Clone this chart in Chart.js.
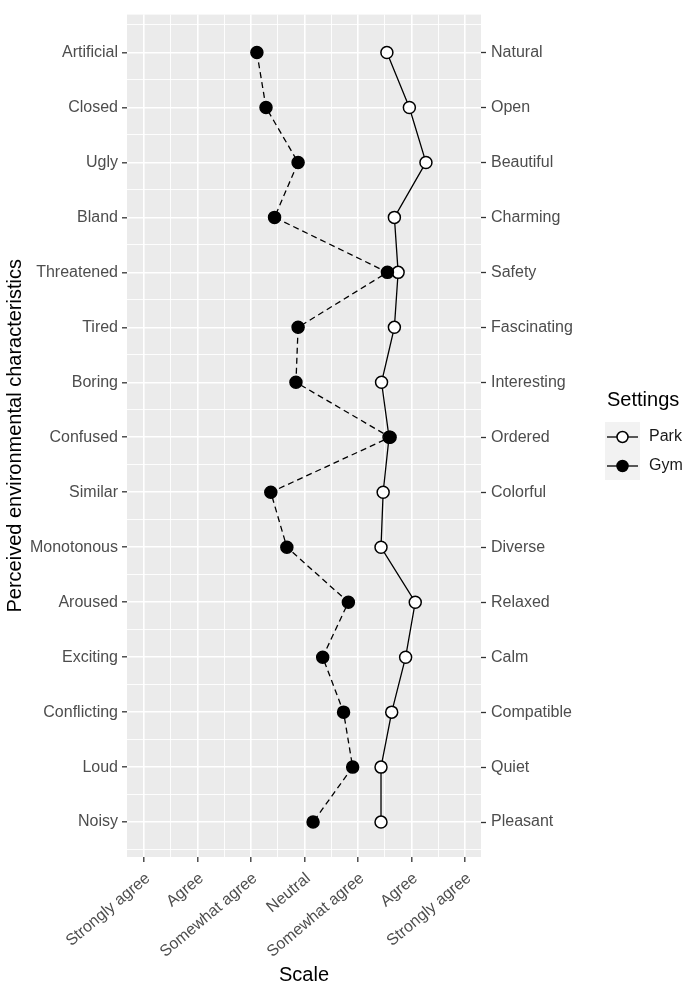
<!DOCTYPE html>
<html>
<head>
<meta charset="utf-8">
<script src="https://cdn.jsdelivr.net/npm/chart.js@4.4.1/dist/chart.umd.min.js"></script>
<style>
html,body{margin:0;padding:0;background:#fff;}
#wrap{width:688px;height:991px;position:relative;}
</style>
</head>
<body>
<div id="wrap"><canvas id="c" width="688" height="991"></canvas></div>
<script>
// ---- data ----
const leftLabels = ["Artificial","Closed","Ugly","Bland","Threatened","Tired","Boring","Confused","Similar","Monotonous","Aroused","Exciting","Conflicting","Loud","Noisy"];
const rightLabels = ["Natural","Open","Beautiful","Charming","Safety","Fascinating","Interesting","Ordered","Colorful","Diverse","Relaxed","Calm","Compatible","Quiet","Pleasant"];
const scaleLabels = ["Strongly agree","Agree","Somewhat agree","Neutral","Somewhat agree","Agree","Strongly agree"];
const parkValues = [5.54,5.96,6.27,5.68,5.75,5.68,5.44,5.58,5.47,5.43,6.07,5.89,5.63,5.43,5.43];
const gymValues  = [3.11,3.28,3.88,3.44,5.55,3.88,3.84,5.60,3.37,3.67,4.82,4.34,4.73,4.90,4.16];
const seriesNames = ["Park","Gym"];

const toPts = vals => vals.map((v,i)=>({x:v,y:i}));
const FONT = "'Liberation Sans', Arial, sans-serif";
const TICK_COL = '#4D4D4D';

const panelBg = {
  id:'panelBg',
  beforeDraw(chart){
    const {ctx, chartArea:a} = chart;
    ctx.save();
    ctx.fillStyle = '#EBEBEB';
    ctx.fillRect(a.left, a.top, a.right-a.left, a.bottom-a.top);
    ctx.restore();
  }
};

const legendPlugin = {
  id:'customLegend',
  afterDraw(chart){
    const ctx = chart.ctx;
    ctx.save();
    ctx.fillStyle = '#000';
    ctx.font = '20px ' + FONT;
    ctx.textAlign = 'left';
    ctx.textBaseline = 'middle';
    ctx.fillText('Settings', 607, 400);
    const rows = [437, 466];
    ctx.fillStyle = '#F2F2F2';
    ctx.fillRect(605, 422, 35, 58);
    rows.forEach((y, i) => {
      ctx.strokeStyle = '#000';
      ctx.lineWidth = 1.3;
      ctx.setLineDash([]);
      ctx.beginPath(); ctx.moveTo(607, y); ctx.lineTo(638, y); ctx.stroke();
      ctx.beginPath(); ctx.arc(622.5, y, 5.5, 0, Math.PI*2);
      ctx.fillStyle = i === 0 ? '#fff' : '#000';
      ctx.fill();
      ctx.lineWidth = 1.5;
      ctx.stroke();
      ctx.fillStyle = '#1a1a1a';
      ctx.font = '16px ' + FONT;
      ctx.fillText(seriesNames[i], 649, y);
    });
    ctx.restore();
  }
};

const isMajor = v => Math.abs(v - Math.round(v)) < 1e-6;

new Chart(document.getElementById('c'), {
  type: 'scatter',
  data: {
    datasets: [
      {
        label: seriesNames[0],
        data: toPts(parkValues),
        showLine: true,
        borderColor: '#000',
        borderWidth: 1.3,
        pointRadius: 6,
        pointHoverRadius: 6,
        pointBackgroundColor: '#fff',
        pointBorderColor: '#000',
        pointBorderWidth: 1.5,
        order: 1
      },
      {
        label: seriesNames[1],
        data: toPts(gymValues),
        showLine: true,
        borderColor: '#000',
        borderWidth: 1.3,
        borderDash: [6,4],
        pointRadius: 6,
        pointHoverRadius: 6,
        pointBackgroundColor: '#000',
        pointBorderColor: '#000',
        pointBorderWidth: 1.5,
        order: 0
      }
    ]
  },
  options: {
    responsive: false,
    animation: false,
    devicePixelRatio: 1,
    layout: { padding: { left: 0, right: 97, top: 12, bottom: 0 } },
    plugins: { legend: { display: false }, tooltip: { enabled: false } },
    scales: {
      x: {
        type: 'linear',
        min: 0.682, max: 7.299,
        afterBuildTicks(scale){
          const t = [];
          for (let v = 1; v <= 7.0001; v += 0.5) t.push({value: v});
          scale.ticks = t;
        },
        afterFit(scale){ scale.height = 134; },
        border: { display: false },
        grid: {
          color: '#fff',
          lineWidth: c => isMajor(c.tick.value) ? 1.6 : 0.9,
          tickLength: 5,
          tickColor: c => isMajor(c.tick.value) ? '#333' : 'rgba(0,0,0,0)',
          tickWidth: 1.3
        },
        ticks: {
          autoSkip: false,
          minRotation: 40, maxRotation: 40,
          color: TICK_COL,
          font: { size: 16, family: FONT },
          padding: 7,
          labelOffset: 4,
          callback: v => isMajor(v) ? scaleLabels[Math.round(v)-1] : ''
        },
        title: { display: true, text: 'Scale', color: '#000', font: { size: 20, family: FONT }, padding: { top: 4, bottom: 4 } }
      },
      y: {
        type: 'linear',
        position: 'left',
        reverse: true,
        min: -0.689, max: 14.635,
        afterBuildTicks(scale){
          const t = [];
          for (let v = -0.5; v <= 14.5001; v += 0.5) t.push({value: v});
          scale.ticks = t;
        },
        afterFit(scale){ scale.width = 127; },
        border: { display: false },
        grid: {
          color: '#fff',
          lineWidth: c => isMajor(c.tick.value) ? 1.6 : 0.9,
          tickLength: 5,
          tickColor: c => isMajor(c.tick.value) ? '#333' : 'rgba(0,0,0,0)',
          tickWidth: 1.3
        },
        ticks: {
          autoSkip: false,
          color: TICK_COL,
          font: { size: 16, family: FONT },
          padding: 4,
          callback: v => (isMajor(v) && v >= 0) ? leftLabels[Math.round(v)] : ''
        },
        title: { display: true, text: 'Perceived environmental characteristics', color: '#000', font: { size: 20, family: FONT }, padding: { top: 3, bottom: 0 } }
      },
      y2: {
        type: 'linear',
        position: 'right',
        reverse: true,
        min: -0.689, max: 14.635,
        afterBuildTicks(scale){
          const t = [];
          for (let v = 0; v <= 14.0001; v += 1) t.push({value: v});
          scale.ticks = t;
        },
        afterFit(scale){ scale.width = 110; },
        border: { display: false },
        grid: {
          drawOnChartArea: false,
          tickLength: 5,
          tickColor: '#333',
          tickWidth: 1.3
        },
        ticks: {
          autoSkip: false,
          color: TICK_COL,
          font: { size: 16, family: FONT },
          padding: 5,
          callback: v => rightLabels[Math.round(v)]
        }
      }
    }
  },
  plugins: [panelBg, legendPlugin]
});
</script>
</body>
</html>
